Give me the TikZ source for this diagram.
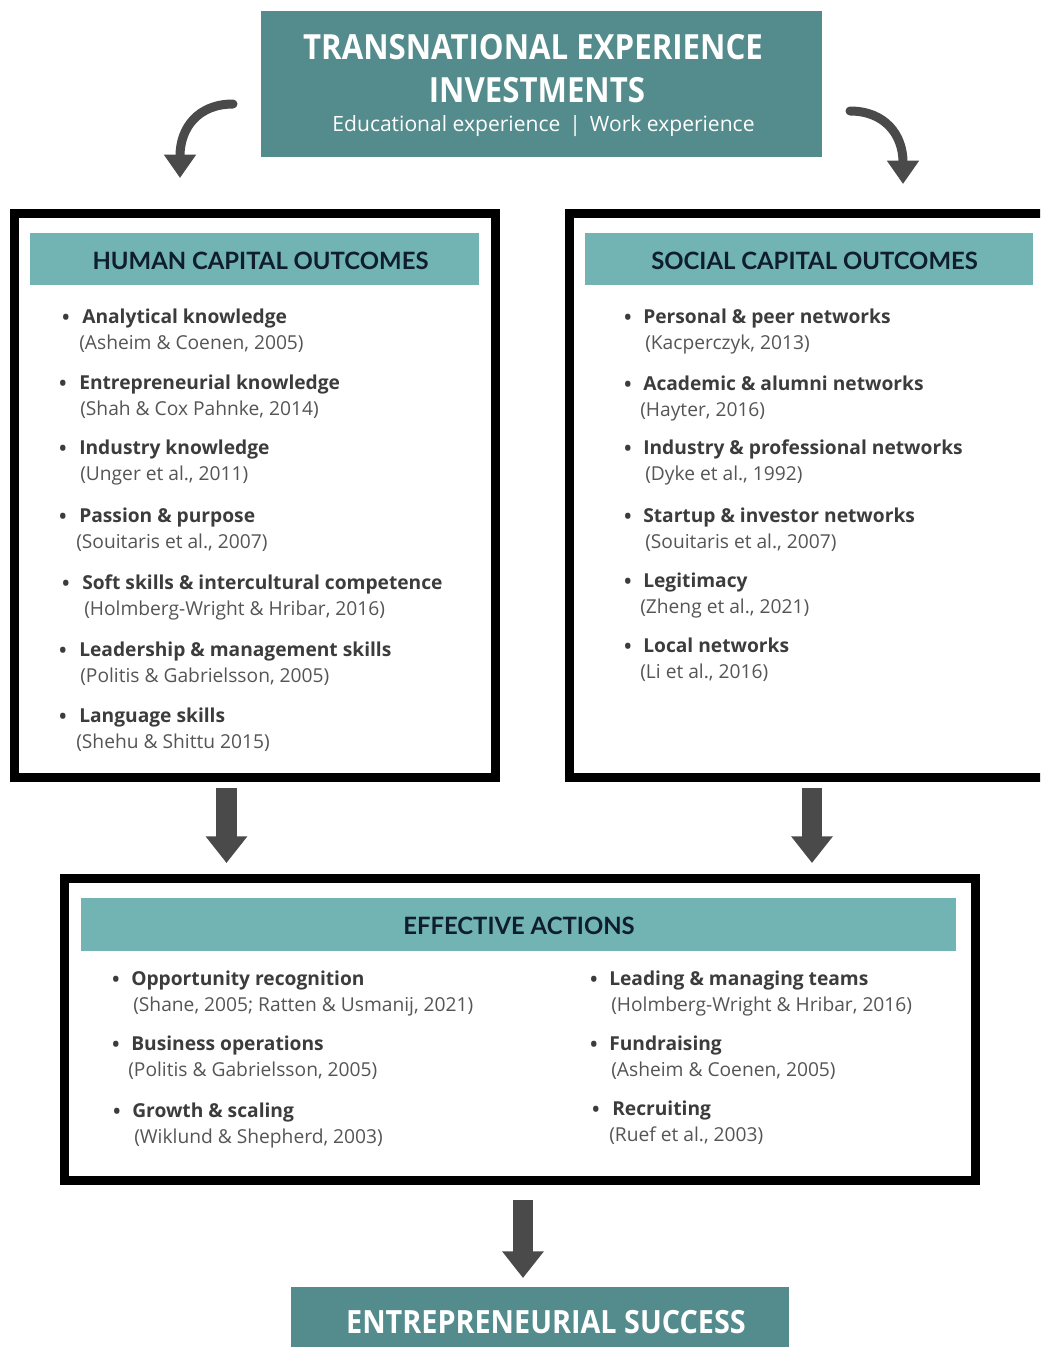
\documentclass[tikz,border=0pt]{standalone}
\usepackage{fontspec}
\setmainfont{Open Sans}
\newfontfamily\latofont{Lato}
\newfontfamily\condfont[FakeStretch=0.9]{Open Sans}
\usetikzlibrary{arrows.meta}
\definecolor{darkteal}{HTML}{548C8D}
\definecolor{lightteal}{HTML}{72B3B3}
\definecolor{navy}{HTML}{0F1E2D}
\definecolor{arrowgray}{HTML}{4A4A4A}
\definecolor{itemgray}{HTML}{3C3C3C}
\definecolor{citegray}{HTML}{555555}
\tikzset{
  darkbox/.style={fill=darkteal, draw=none, inner sep=0pt},
  outerbox/.style={draw=black, line width=6.75pt, fill=white, inner sep=0pt},
  headbox/.style={fill=lightteal, draw=none, inner sep=0pt},
  headtxt/.style={inner sep=0pt, text=navy,
    font=\latofont\bfseries\fontsize{17.9}{20}\selectfont},
  bul/.style={anchor=base, inner sep=0pt, text=itemgray, font=\fontsize{19}{20}\selectfont},
  ttl/.style={anchor=mid west, inner sep=0pt, text=itemgray, font=\bfseries\fontsize{14.4}{16}\selectfont},
  cit/.style={anchor=mid west, inner sep=0pt, text=citegray, font=\fontsize{14.4}{16}\selectfont},
  curvearrow/.style={draw=arrowgray, line width=6.75pt, line cap=round,
    -{Triangle[width=23pt, length=17.5pt]}},
  downarrow/.style={draw=arrowgray, line width=15.5pt,
    -{Triangle[width=30pt, length=20pt]}},
  toptxt/.style={text=white, inner sep=0pt}
}
% #1 name, #2 bullet x, #3 title x, #4 y, #5 title, #6 cite x, #7 cite
\newcommand\bitem[7]{%
  \node[ttl] (#1t) at (#3,#4+3) {#5};
  \node[bul] (#1b) at (#2,#4+9) {•};
  \node[cit] (#1c) at (#6,#4+29) {#7};
}
\begin{document}
\begin{tikzpicture}[x=0.75pt,y=-0.75pt]
\useasboundingbox (0,0) rectangle (1040,1347);
\clip (0,0) rectangle (1040,1347);
\fill[white] (0,0) rectangle (1040,1347);

% top box
\node[darkbox, minimum width=420.75pt, minimum height=109.5pt] (top) at (541.5,84) {};
\node[toptxt, font=\condfont\bfseries\fontsize{26}{28}\selectfont] (t1) at (533,47) {TRANSNATIONAL EXPERIENCE};
\node[toptxt, font=\condfont\bfseries\fontsize{26}{28}\selectfont] (t2) at (537,90) {INVESTMENTS};
\node[toptxt, font=\fontsize{15.8}{18}\selectfont] (t3) at (543.5,126) {Educational experience \,|\, Work experience};

% curved arrows
\coordinate (ca1s) at (233,104);
\coordinate (ca1e) at (180,178);
\coordinate (ca2s) at (850,111);
\coordinate (ca2e) at (903,184);
\draw[curvearrow] (ca1s) .. controls (198,104) and (180,128) .. (ca1e);
\draw[curvearrow] (ca2s) .. controls (885,111) and (903,135) .. (ca2e);

% left box
\node[outerbox, minimum width=360.75pt, minimum height=423pt] (lbox) at (255,495.5) {};
\node[headbox, minimum width=336.75pt, minimum height=39pt] (lhead) at (254.5,259) {};
\node[headtxt] (lheadt) at (260.5,260.5) {HUMAN CAPITAL OUTCOMES};
\bitem{l1}{66}{82}{317}{Analytical knowledge}{79}{(Asheim \& Coenen, 2005)}
\bitem{l2}{63}{79}{383}{Entrepreneurial knowledge}{80}{(Shah \& Cox Pahnke, 2014)}
\bitem{l3}{63}{79}{448}{Industry knowledge}{80}{(Unger et al., 2011)}
\bitem{l4}{63}{79}{516}{Passion \& purpose}{76}{(Souitaris et al., 2007)}
\bitem{l5}{66}{82}{583}{Soft skills \& intercultural competence}{84}{(Holmberg-Wright \& Hribar, 2016)}
\bitem{l6}{63}{79}{650}{Leadership \& management skills}{80}{(Politis \& Gabrielsson, 2005)}
\bitem{l7}{63}{79}{716}{Language skills}{76}{(Shehu \& Shittu 2015)}

% right box
\node[outerbox, minimum width=360.75pt, minimum height=423pt] (rbox) at (810,495.5) {};
\node[headbox, minimum width=336pt, minimum height=39pt] (rhead) at (809,259) {};
\node[headtxt] (rheadt) at (814.5,260.5) {SOCIAL CAPITAL OUTCOMES};
\bitem{r1}{628}{643}{317}{Personal \& peer networks}{645}{(Kacperczyk, 2013)}
\bitem{r2}{628}{643}{384}{Academic \& alumni networks}{640}{(Hayter, 2016)}
\bitem{r3}{628}{643}{448}{Industry \& professional networks}{645}{(Dyke et al., 1992)}
\bitem{r4}{628}{643}{516}{Startup \& investor networks}{645}{(Souitaris et al., 2007)}
\bitem{r5}{628}{643}{581}{Legitimacy}{640}{(Zheng et al., 2021)}
\bitem{r6}{628}{643}{646}{Local networks}{640}{(Li et al., 2016)}

% bottom box
\node[outerbox, minimum width=683.25pt, minimum height=226.5pt] (bbox) at (520,1029.5) {};
\node[headbox, minimum width=656.25pt, minimum height=39.75pt] (bhead) at (518.5,924.5) {};
\node[headtxt] (bheadt) at (519,926) {EFFECTIVE ACTIONS};
\bitem{b1}{116}{131}{979}{Opportunity recognition}{133}{(Shane, 2005; Ratten \& Usmanij, 2021)}
\bitem{b2}{116}{131}{1044}{Business operations}{128}{(Politis \& Gabrielsson, 2005)}
\bitem{b3}{117}{132}{1111}{Growth \& scaling}{134}{(Wiklund \& Shepherd, 2003)}
\bitem{b4}{594}{609}{979}{Leading \& managing teams}{611}{(Holmberg-Wright \& Hribar, 2016)}
\bitem{b5}{594}{609}{1044}{Fundraising}{611}{(Asheim \& Coenen, 2005)}
\bitem{b6}{596}{612}{1109}{Recruiting}{609}{(Ruef et al., 2003)}

% final box
\node[darkbox, minimum width=373.5pt, minimum height=52.5pt] (final) at (540,1322) {};
\node[toptxt, font=\condfont\bfseries\fontsize{24}{26}\selectfont] (ftxt) at (546,1322) {ENTREPRENEURIAL SUCCESS};

% down arrows
\coordinate (a1s) at (226.5,788);
\coordinate (a1e) at (226.5,863);
\coordinate (a2s) at (812,788);
\coordinate (a2e) at (812,863);
\coordinate (a3s) at (523,1200);
\coordinate (a3e) at (523,1278);
\draw[downarrow] (a1s) -- (a1e);
\draw[downarrow] (a2s) -- (a2e);
\draw[downarrow] (a3s) -- (a3e);
\end{tikzpicture}
\end{document}
